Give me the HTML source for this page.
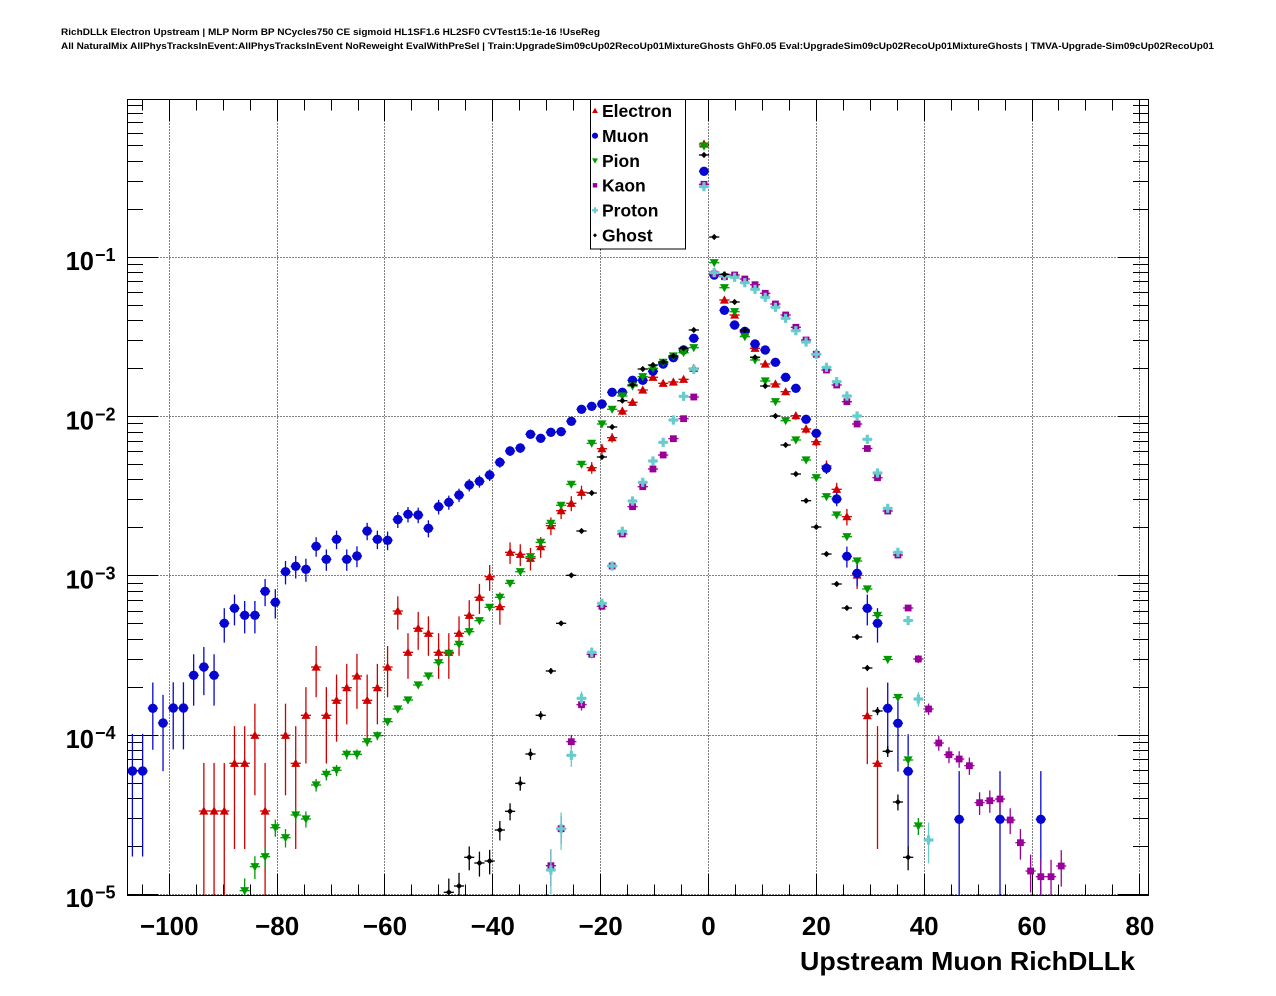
<!DOCTYPE html>
<html><head><meta charset="utf-8">
<style>
html,body{margin:0;padding:0;background:#fff;}
svg{display:block;}
text{font-family:"Liberation Sans",Arial,sans-serif;font-weight:bold;fill:#000;}
</style></head><body>
<svg id="c" width="1276" height="996" xmlns="http://www.w3.org/2000/svg">
<rect width="1276" height="996" fill="#fff"/>
<defs><clipPath id="fr"><rect x="127.5" y="99.5" width="1020.5" height="796"/></clipPath></defs>
<text x="61" y="35" font-size="9.5" textLength="539" lengthAdjust="spacingAndGlyphs">RichDLLk Electron Upstream | MLP Norm BP NCycles750 CE sigmoid HL1SF1.6 HL2SF0 CVTest15:1e-16 !UseReg</text>
<text x="61" y="49" font-size="9.5" textLength="1153" lengthAdjust="spacingAndGlyphs">All NaturalMix AllPhysTracksInEvent:AllPhysTracksInEvent NoReweight EvalWithPreSel | Train:UpgradeSim09cUp02RecoUp01MixtureGhosts GhF0.05 Eval:UpgradeSim09cUp02RecoUp01MixtureGhosts | TMVA-Upgrade-Sim09cUp02RecoUp01</text>
<text x="800" y="970" font-size="26" textLength="335" lengthAdjust="spacingAndGlyphs">Upstream Muon RichDLLk</text>
</svg>
<script>
(function(){
const NS="http://www.w3.org/2000/svg";
const svg=document.getElementById('c');
function el(tag,attrs,parent){const e=document.createElementNS(NS,tag);for(const k in attrs)e.setAttribute(k,attrs[k]);(parent||svg).appendChild(e);return e;}
const X0=708.5,SX=5.392;
const L=127.5,R=1148.5,T=99.5,B=895.5;
const Y1=257.3,DEC=159.3;
function xv(v){return X0+SX*v;}
function yl(l){return Y1-DEC*(l+1);}
function px(a){return Math.floor(a)+0.5;}
// grid
const g=el('g',{});
for(let v=-100;v<=80;v+=20){const x=px(xv(v));el('line',{x1:x,x2:x,y1:T,y2:B,stroke:'#000','stroke-width':1,'stroke-dasharray':'1,2'},g);}
for(let k=-5;k<=-1;k++){const y=px(yl(k));el('line',{x1:L,x2:R,y1:y,y2:y,stroke:'#000','stroke-width':1,'stroke-dasharray':'1,2'},g);}
// ticks
const tk=el('g',{stroke:'#000','stroke-width':1});
for(let v=-105;v<=80;v+=5){const x=px(xv(v));const len=(v%20===0)?22:11;
 el('line',{x1:x,x2:x,y1:B,y2:B-len},tk);el('line',{x1:x,x2:x,y1:T,y2:T+len},tk);}
for(let k=-5;k<=-1;k++){
 for(let m=1;m<=9;m++){const y=px(yl(k+Math.log10(m)));if(y<T)continue;const len=(m===1)?31:15.5;
  el('line',{x1:L,x2:L+len,y1:y,y2:y},tk);el('line',{x1:R,x2:R-len,y1:y,y2:y},tk);}
}
// labels
for(let v=-100;v<=80;v+=20){const t=el('text',{x:xv(v),y:935,'font-size':26,'text-anchor':'middle'});t.textContent=(v<0?'\u2212'+Math.abs(v):String(v));}
for(let k=-1;k>=-5;k--){const y=yl(k);
 const t=el('text',{x:94,y:y+12.7,'font-size':25.5,'text-anchor':'end'});t.textContent='10';
 const s=el('text',{x:95,y:y+3.8,'font-size':18,'text-anchor':'start'});s.textContent='\u2212'+Math.abs(k);}
// data
function arr(obj){const a=new Array(100).fill(null);for(const k in obj)a[+k]=obj[k];return a;}
function seq(start,list){const o={};list.forEach((v,j)=>{if(v!==null)o[start+j]=v;});return o;}
const red=seq(7,[811,811,811,763.3,763.3,735.3,811,null,735.3,763.3,715.3,667,715.3,700.3,687.7,676,700.3,687.7,667,611,652.3,628.3,633.3,652.3,652.3,633.3,615.3,597.3,576.7,606.7,552.3,554.3,558.3,546.7,525.7,510.7,503.3,492.3,467.7,448.7,437.7,411,402.3,390,377.3,383.3,382,379.3,368.3,144,272,300,315,332,348.3,364,384,391.7,415.7,429,441.7,466,489.3,516.7,575,715.7,763.3]);
const blueO=seq(0,[771,771,708.3,723,708,708,675.3,667,675.3,623.3,608.3,615.3,615.3,591.3,602.3,571.7,566.3,569.3,546.3,559.3,539.3,559.3,556,531,539.3,540.3,519.5,514.3,515,528.3,506.7,502.3,495,485,481.3,475,462.3,451,448,434.3,438.3,432.3,431.7,421.3,409.3,406.3,404,392.3,392.3,380.3,380.3,371.3,364,357.7,350,338.3,171.3,275,310.3,325,331.3,344,350,362.3,377.3,388.3,419.3,433.3,468.3,499,556.3,573.3,608.3,623.3,708.3,723.3,771.3]);
blueO[81]=819.3;blueO[85]=819.3;blueO[89]=819.3;
const green=seq(11,[890.7,866.7,856.7,827.7,837.7,815,819,785,774.3,770.3,754.3,754.3,741.7,735.7,721.7,709,700,685,676,662.7,653.3,644.3,631.7,620.7,607.3,597.3,583.3,571.7,556.7,542.3,523.3,505.3,484.3,464.3,443.3,424,409.3,396,386,376.7,368.3,362.3,356,352.7,347.7,146,262.7,287.7,311.7,336.7,360,381,401.7,420.7,440,460,477.7,496.7,515,536.7,561,589,615.5,659.5,697.5,760,826]);
const mag=seq(41,[865.7,828.7,741.7,704.7,654.3,606.3,566,534,506.7,486.7,469,455,438.7,418.7,397,184.3,274,276.7,275,279,284.7,293.3,304,315,327.3,340,354.3,370,385,401.7,424,448.5,477.7,511,555,608,659,709,743,754.7,759,765.7,802.7,800.7,799,820,842.7,871,876.7,876.7,866]);
const cyan=seq(41,[870,828.7,755.3,698.3,652.3,603.3,566,531.3,501,482.3,461,442.3,420,396.3,369.3,186.7,272.7,276,277.3,282.7,289.3,297.3,307.3,318.3,330.7,342,354.3,367.3,381.7,396,416,439.3,473,508.3,552.3,620.5,699,840]);
const black=seq(31,[892.3,886,857.3,863,861,830,811.3,783.3,754,715.3,671,623.3,575.3,531,493,457,427,400.7,385,369,365,362,356,348.3,330,155,237,274.3,302,330,357.3,386,416,445,474,500.7,527,554,584,608,637,668,711,751.3,802,857.3]);
const series=[
 {d:arr(red),c:'#d00000',w:3.36e-5,m:'tu'},
 {d:arr(blueO),c:'#0606d0',w:3e-5,m:'c'},
 {d:arr(green),c:'#009a00',w:4e-7,m:'td'},
 {d:arr(mag),c:'#990099',w:1e-6,m:'s'},
 {d:arr(cyan),c:'#66cccc',w:1.8e-6,m:'x'},
 {d:arr(black),c:'#000000',w:5e-7,m:'d'}
];
function marker(m,x,y,c,sc,parent){
 sc=sc||1;
 if(m==='c'){el('circle',{cx:x,cy:y,r:4.7*sc,fill:c},parent);}
 else if(m==='tu'){const a=4.5*sc,b=3.6*sc,h=4.6*sc;el('polygon',{points:`${x-a},${y+b} ${x+a},${y+b} ${x},${y-h}`,fill:c},parent);}
 else if(m==='td'){const a=4.5*sc,b=3.6*sc,h=4.6*sc;el('polygon',{points:`${x-a},${y-b} ${x+a},${y-b} ${x},${y+h}`,fill:c},parent);}
 else if(m==='s'){const a=3.4*sc;el('rect',{x:x-a,y:y-a,width:2*a,height:2*a,fill:c},parent);}
 else if(m==='x'){const a=4.6*sc,t=1.6*sc;el('path',{d:`M${x-t},${y-a}H${x+t}V${y-t}H${x+a}V${y+t}H${x+t}V${y+a}H${x-t}V${y+t}H${x-a}V${y-t}H${x-t}Z`,fill:c},parent);}
 else if(m==='d'){const a=3.1*sc;el('polygon',{points:`${x},${y-a} ${x+a},${y} ${x},${y+a} ${x-a},${y}`,fill:c},parent);}
}
const dg=el('g',{'clip-path':'url(#fr)'});
const BW=(1148-127.3)/100;
series.forEach(s=>{
 const gg=el('g',{},dg);
 s.d.forEach((y,i)=>{
  if(y===null)return;
  const x=127.3+(i+0.5)*BW;
  const l=-1-(y-Y1)/DEC;const v=Math.pow(10,l);const sg=Math.sqrt(v*s.w);
  const yt=yl(Math.log10(v+sg));
  let yb=(v-sg>1e-9)?yl(Math.log10(v-sg)):B+5;
  if(yb>B+5)yb=B+5;
  el('line',{x1:x,x2:x,y1:yt,y2:yb,stroke:s.c,'stroke-width':1.3},gg);
  el('line',{x1:x-BW/2,x2:x+BW/2,y1:y,y2:y,stroke:s.c,'stroke-width':1.3},gg);
  marker(s.m,x,y,s.c,1,gg);
 });
});
// frame
el('rect',{x:L,y:T,width:R-L,height:B-T,fill:'none',stroke:'#000','stroke-width':1});
// legend
const lg=el('g',{});
el('rect',{x:590.5,y:99.5,width:95,height:149.5,fill:'#fff',stroke:'#000','stroke-width':1},lg);
const names=['Electron','Muon','Pion','Kaon','Proton','Ghost'];
const ly=[110.7,135.7,160.7,185.3,210.3,235.3];
names.forEach((n,i)=>{
 marker(series[i].m,595,ly[i],series[i].c,0.65,lg);
 const t=el('text',{x:602,y:ly[i]+6.4,'font-size':17.5},lg);t.textContent=n;
});
})();
</script>
</body></html>
